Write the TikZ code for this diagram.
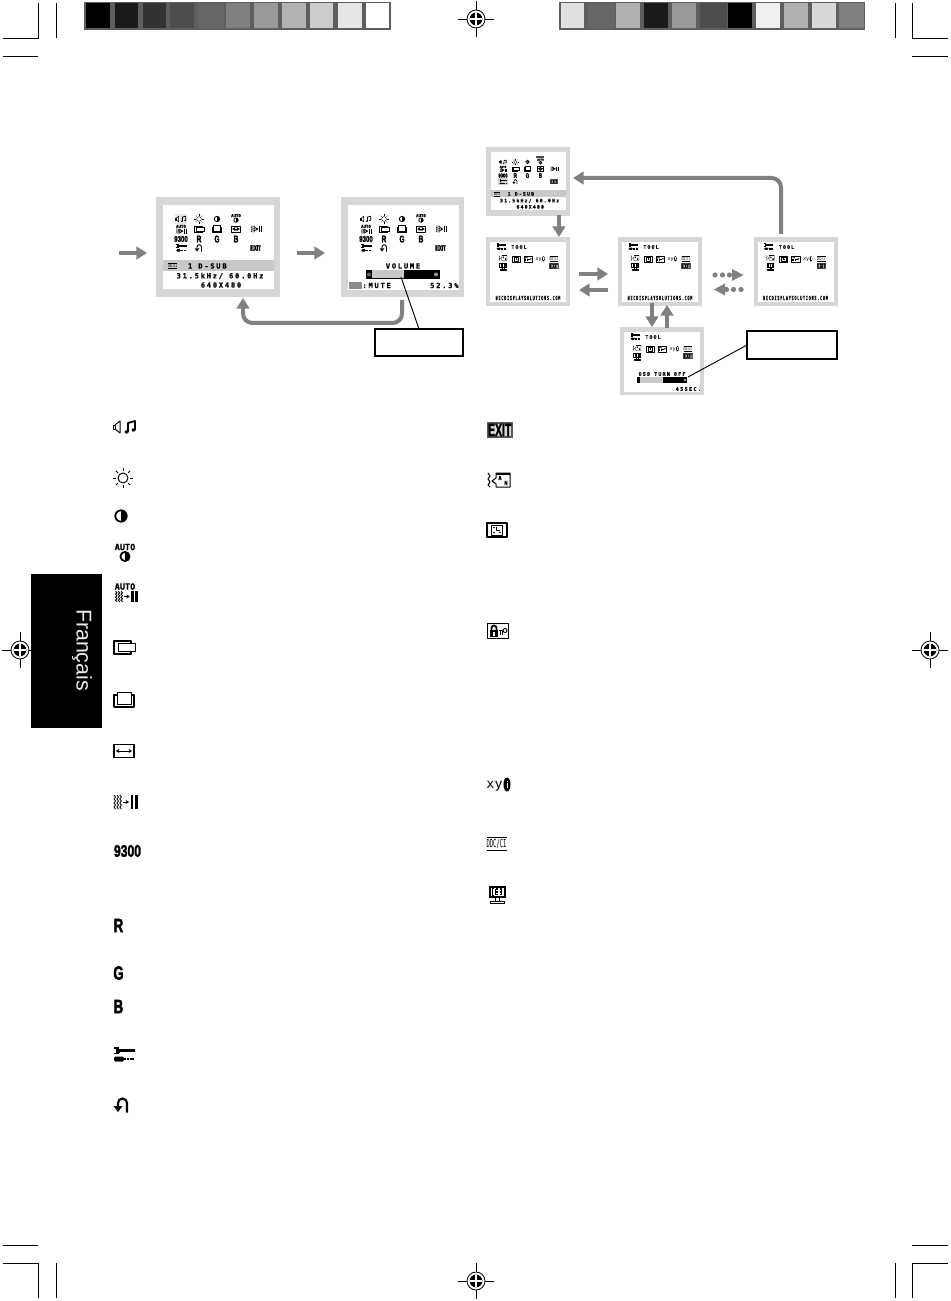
\documentclass[tikz,border=0pt]{standalone}
\usepackage{fontspec}
\usetikzlibrary{arrows.meta,calc}
\setmainfont{Liberation Sans}
\newfontfamily\osdfont[LetterSpace=25,BoldFeatures={FakeBold=.6}]{DejaVu Sans Mono}
\newfontfamily\monofnt[BoldFeatures={FakeBold=.6}]{DejaVu Sans Mono}
\newfontfamily\icofont[BoldFeatures={FakeBold=2.5}]{Liberation Sans}
\definecolor{pgrey}{HTML}{D6D6D6}
\definecolor{barg}{HTML}{C8C8C8}
\definecolor{arrg}{HTML}{808080}
\definecolor{fr}{HTML}{5E5E5E}
\def\ilw{.75pt}
\tikzset{
  ik/.style={draw=black,line width=\ilw,line join=round},
  ikt/.style={draw=black,line width=1.8*\ilw,line join=round},
  ico/.style={scale=#1,transform shape},
  ot/.style={inner sep=0,outer sep=0,transform shape,font=\osdfont\bfseries\fontsize{#1}{#1}\selectfont},
  ot/.default=5.3,
  aut/.style={inner sep=0,outer sep=0,transform shape,font=\monofnt\bfseries\fontsize{6.4}{6.4}\selectfont},
  bigl/.style={inner sep=0,outer sep=0,transform shape,font=\icofont\bfseries\fontsize{#1}{#1}\selectfont},
  pbox/.style={fill=pgrey,draw=none,inner sep=0,outer sep=0},
  cbox/.style={draw=black,line width=.8pt,fill=white,inner sep=0,outer sep=0},
  garrow/.style={draw=arrg,line width=3pt,-{Triangle[length=8pt,width=9.5pt]},rounded corners=7pt},
  leader/.style={draw=black,line width=.7pt},
  crop/.style={draw=black,line width=.7pt},
  % ---- icons
  vol/.pic={
    \draw[ik] (-12,-2) rectangle (-10,2);
    \draw[ik] (-10,-2)--(-5,-6)--(-5,6)--(-10,2);
    \draw[ikt] (3,5)--(3,-4)--(10,-6)--(10,3);
    \fill (1.5,5) ellipse (2 and 1.6);
    \fill (8.5,3) ellipse (2 and 1.6);
  },
  sun/.pic={
    \draw[ik] (0,0) circle (5);
    \foreach \a in {0,45,...,315}{\draw[ik] (\a:7.3) -- (\a:10);}
  },
  con/.pic={
    \draw[ikt] (0,0) circle (5.7);
    \fill (0,-6) arc (-90:90:6) -- cycle;
  },
  aucon/.pic={
    \node[aut] (au1) at (0,-5) {AUTO};
    \draw[ikt] (0,4.5) circle (4.6);
    \fill (0,-0.5) arc (-90:90:5) -- cycle;
  },
  wav/.pic={
    \foreach \q in {-10,-7.1,-4.2}{
      \draw[draw=black,line width=.8*\ilw] (\q,-7)--(\q+1.6,-5)--(\q,-3)--(\q+1.6,-1)--(\q,1)--(\q+1.6,3)--(\q,5)--(\q+1.6,7);
    }
    \draw[line width=.6*\ilw,-{Stealth[length=2.5pt,width=3pt]}] (-1,0)--(5,0);
    \fill (6.7,-7) rectangle (9,7);
    \fill (11,-7) rectangle (13.5,7);
  },
  auadj/.pic={
    \node[aut] (au2) at (0,-5.5) {AUTO};
    \pic[yscale=.75,xscale=.95] at (0,4.5) {wav};
  },
  sizl/.pic={
    \draw[ikt] (-10,-6) rectangle (7,7);
    \draw[ik,fill=white] (-6,-4) rectangle (11,4.5);
  },
  sizb/.pic={
    \draw[ikt] (-10,-4) rectangle (10,8);
    \draw[ik,fill=white] (-7,-7) rectangle (7,5);
  },
  wid/.pic={
    \draw[ikt] (-10,-6.5) rectangle (10,6.5);
    \draw[line width=.6*\ilw,{Stealth[length=2.5pt,width=3pt]}-{Stealth[length=2.5pt,width=3pt]}] (-8,0)--(8,0);
  },
  n93/.pic={\node[bigl=12.5,xscale=.73] (n93t) at (0,0) {9300};},
  lR/.pic={\node[bigl=14.5,xscale=.68] (lRt) at (0,0) {R};},
  lG/.pic={\node[bigl=14.5,xscale=.68] (lGt) at (0,0) {G};},
  lB/.pic={\node[bigl=14.5,xscale=.68] (lBt) at (0,0) {B};},
  toolic/.pic={
    \fill (-10,-7) rectangle (-5,-5.3);
    \fill (-10,-1.5) rectangle (-5,.2);
    \fill (-8,-5.5) rectangle (-4,-1.3);
    \fill (-4,-5.2) rectangle (11,-2);
    \fill[rounded corners=1] (-10,2.5) rectangle (0,7.5);
    \draw[draw=black,line width=1.3pt,dash pattern=on 1.5pt off .6pt] (0,5) -- (11,5);
  },
  reseti/.pic={
    \draw[line width=2.1*\ilw] (5,7.5)--(5,-2) arc (0:-180:4.5)--(-4,1);
    \fill (-8.5,1)--(.5,1)--(-4,7)--cycle;
  },
  exitic/.pic={
    \fill[fill=black!65] (-13.5,-8) rectangle (13,8);
    \fill[black!15] (-11.5,-6.3) rectangle (11,6.3);
    \node[bigl=13.5,xscale=.58] (exitt) at (-.3,0) {EXIT};
  },
  lang/.pic={
    \draw[ik] (-11,-7)--(-9,-4)--(-11,-1)--(-9,2)--(-11,5)--(-9,7);
    \draw[ik] (-7,1)--(-3,-2)--(-3,-7)--(11,-7)--(11,7)--(-3,7)--(-3,4)--cycle;
    \fill (-3,-7) rectangle (11,-5);
    \node[ot=4.2] (langa) at (1,-2) {A};
    \node[ot=4.2] (langn) at (7,3) {N};
  },
  timer/.pic={
    \draw[ikt] (-10,-7) rectangle (10,7);
    \draw[ik] (-5.5,-5) rectangle (5.5,5);
    \draw[ik] (-.5,-3.5)--(-.5,0)--(2.5,0);
    \fill (-3,2.5) circle (.8) (3,2.5) circle (.8) (-3,-2.5) circle (.8);
  },
  lockic/.pic={
    \draw[ik] (-10.5,-7.5) rectangle (10.5,7.5);
    \fill (-8,-1) rectangle (0,6);
    \draw[ikt] (-6.5,-1)--(-6.5,-3) arc (-180:0:2.5)--(-1.5,-1);
    \fill[white] (-4.6,1) rectangle (-3.4,4.5);
    \draw[ik] (7,-.5) circle (2);
    \draw[ik] (5,-.5)--(1,-.5)(2,-.5)--(2,3.5)(4,-.5)--(4,3.5);
  },
  xyic/.pic={
    \node[inner sep=0,outer sep=0,transform shape,font=\monofnt\fontsize{10}{10}\selectfont] (xyt) at (-3.5,1) {xy};
    \fill (9,-.5) ellipse (3.5 and 7);
    \fill[white] (8.5,-2) rectangle (9.6,3);
    \fill[white] (8.5,-4.5) rectangle (9.6,-3.4);
  },
  ddc/.pic={
    \draw[ik] (-10.5,-6.5) -- (9.5,-6.5);
    \draw[ik] (-10.5,6) -- (9.5,6);
    \node[inner sep=0,outer sep=0,transform shape,xscale=.5,font=\monofnt\fontsize{8.25}{8.25}\selectfont] (ddct) at (-.5,0) {DDC/CI};
  },
  moni/.pic={
    \fill (-8.5,-7.5) rectangle (8.5,5);
    \fill[white] (-6.5,-5.5) rectangle (6.5,3);
    \draw[ik] (-5,-4.5) -- (-5,2) (-5,-4.5) -- (-3.5,-4.5) (-5,2) -- (-3.5,2);
    \draw[ikt] (-1.5,-4)--(-1.5,1.5)(-1.5,-4)--(1,-4)(-1.5,-1.2)--(1,-1.2)(-1.5,1.5)--(1,1.5);
    \draw[ikt] (2.5,-4)--(4.5,-4)--(4.5,1.5)--(2.5,1.5)(2.8,-1.2)--(4.5,-1.2);
    \draw[ik] (-2,5) -- (-2,8) (2,5) -- (2,8);
    \draw[ik] (-7,8) rectangle (7,10);
  },
  regm/.pic={
    \draw[line width=.5pt] (-18,0) -- (18,0) (0,-18) -- (0,18);
    \draw[line width=.6pt,fill=white] (0,0) circle (9);
    \fill (0,0) circle (6.3);
    \draw[white,line width=.8pt] (-6.3,0) -- (6.3,0) (0,-6.3) -- (0,6.3);
  },
}
% main OSD menu: local coordinates, origin is the panel's top-left corner
\newcommand\mainicons{
  \pic[ico=.47] at (25,22) {vol};
  \pic[ico=.47] at (43,22) {sun};
  \pic[ico=.47] at (61,22) {con};
  \pic[ico=.47] at (80,21) {aucon};
  \pic[ico=.47] at (25,32) {auadj};
  \pic[ico=.47] at (43,32) {sizl};
  \pic[ico=.47] at (61,32) {sizb};
  \pic[ico=.47] at (80,32) {wid};
  \pic[ico=.47] at (100,32) {wav};
  \pic[ico=.5] at (25,42) {n93};
  \pic[ico=.5] at (43,42) {lR};
  \pic[ico=.5] at (61,42) {lG};
  \pic[ico=.5] at (80,42) {lB};
  \pic[ico=.5] at (25,51) {toolic};
  \pic[ico=.5] at (43,51) {reseti};
  \pic[ico=.42] at (100,51) {exitic};
}
\newcommand\infotext{
  \fill[barg] (7,63) rectangle (118,74);
  \fill[white] (7,74) rectangle (118,92);
  \pic[ico=.45] at (17,69) {ddc};
  \node[ot,anchor=west] (ia) at (32,69) {1 D-SUB};
  \node[ot] (ib) at (64,79) {31.5kHz/ 60.0Hz};
  \node[ot] (ic) at (65,88) {640X480};
}
\newcommand\toolinner{
  \fill[white] (4,5) rectangle (80,65);
  \pic[ico=.45] at (15,9.5) {toolic};
  \node[ot=3.6] (tta) at (33,10) {TOOL};
  \pic[ico=.36] at (17,21) {lang};
  \pic[ico=.42] at (17,29) {moni};
  \pic[ico=.4] at (30,22) {timer};
  \pic[ico=.4] at (42,22) {lockic};
  \pic[ico=.38] at (54,22) {xyic};
  \pic[ico=.42] at (68,22) {ddc};
  \pic[ico=.36] at (68,29) {exitic};
}
\newcommand\necurl{\node[ot=4.4,xscale=.57] (tub) at (42,61) {NECDISPLAYSOLUTIONS.COM};}
\begin{document}
\begin{tikzpicture}[x=.75pt,y=-.75pt]
\useasboundingbox (0,0) rectangle (950,1301);
\fill[white] (0,0) rectangle (950,1301);
% colour bars
\fill[fr] (84,2) rectangle (391,30);
\foreach \a/\b/\c in {86/110/000000,115/138/1A1A1A,143/166/333333,170/194/4D4D4D,198/224/666666,226/250/808080,254/278/999999,282/306/B3B3B3,310/333/CCCCCC,338/362/E6E6E6,366/389/FFFFFF}{
  \definecolor{cc}{HTML}{\c}\fill[cc] (\a,3.5) rectangle (\b,28);}
\fill[fr] (559,2) rectangle (865,30);
\foreach \a/\b/\c in {561/584/E0E0E0,588/615/666666,616/640/B0B0B0,644/668/1A1A1A,672/696/999999,700/727/4D4D4D,728/752/000000,756/780/F0F0F0,784/808/B0B0B0,812/836/D8D8D8,839/864/808080}{
  \definecolor{cc}{HTML}{\c}\fill[cc] (\a,3.5) rectangle (\b,28);}
% crop marks
\draw[crop] (3,38)--(38,38)--(38,3) (56,3)--(56,38) (3,56)--(38,56);
\draw[crop] (895,3)--(895,38) (912,3)--(912,38)--(948,38) (912,56)--(948,56);
\draw[crop] (3,1245)--(38,1245) (3,1263)--(38,1263)--(38,1298) (56,1263)--(56,1298);
\draw[crop] (895,1263)--(895,1298) (948,1263)--(912,1263)--(912,1298) (912,1245)--(948,1245);
% language tab
\node[fill=black,inner sep=0,outer sep=0,minimum width=53.25pt,minimum height=115.5pt] (tab) at (66.5,650.5) {};
\pic at (20,650) {regm};
\pic at (930,650) {regm};
\pic at (476,19) {regm};
\pic at (476,1281) {regm};
\node[rotate=-90,text=white!93!black,inner sep=0,font=\fontsize{16}{16}\selectfont] (francais) at (82,650) {Français};
% panels
\node[pbox,minimum width=93pt,minimum height=75pt] (p1) at (218,247) {};
\node[pbox,minimum width=92.25pt,minimum height=75pt] (p2) at (402.5,247) {};
\node[pbox,minimum width=63pt,minimum height=51.75pt] (m1) at (528,181.5) {};
\node[pbox,minimum width=63pt,minimum height=51.75pt] (t1) at (528,271.5) {};
\node[pbox,minimum width=63pt,minimum height=51.75pt] (t2) at (660,271.5) {};
\node[pbox,minimum width=63pt,minimum height=51.75pt] (t3) at (795.5,271.5) {};
\node[pbox,minimum width=63pt,minimum height=51pt] (t4) at (662,361) {};
% main menu panel
\begin{scope}[shift={(156,197)}]
  \def\ilw{.33pt}
  \fill[white] (7,8) rectangle (118,63);
  \fill[pgrey!60] (19,17) rectangle (31,27);
  \mainicons
  \infotext
\end{scope}
% volume panel
\begin{scope}[shift={(341,197)}]
  \def\ilw{.33pt}
  \fill[white] (7,8) rectangle (118,93);
  \mainicons
  \node[ot] (va) at (62,69) {VOLUME};
  \fill[black] (25,73) rectangle (99,82);
  \fill[barg] (31,73.5) rectangle (63,81.5);
  \fill[black!60] (28,77.5) circle (2);
  \fill[black!40] (95,77.5) circle (2);
  \fill[black!45] (7.5,85) rectangle (20.5,92);
  \node[ot,anchor=west] (vb) at (21.5,88.5) {:MUTE};
  \node[ot,anchor=east] (vc) at (117.5,88.5) {52.3\%};
\end{scope}
% small main menu
\begin{scope}[shift={(486,147)},scale=.68,transform shape]
  \def\ilw{.25pt}
  \fill[white] (7,8) rectangle (118,63);
  \fill[pgrey] (17,46) rectangle (33,56);
  \mainicons
  \fill[black!70] (74,13) rectangle (86,16);
  \infotext
\end{scope}
% tool panels
\begin{scope}[shift={(486,237)}]\def\ilw{.22pt}\toolinner\necurl\end{scope}
\begin{scope}[shift={(618,237)}]\def\ilw{.22pt}\toolinner\necurl\end{scope}
\begin{scope}[shift={(753.5,237)}]\def\ilw{.22pt}\toolinner\necurl\end{scope}
\begin{scope}[shift={(620,327)}]
  \def\ilw{.22pt}\toolinner
  \node[ot=3.7] (oa) at (42,47) {OSD TURN OFF};
  \fill[black] (17,50) rectangle (67,56);
  \fill[barg] (20,50.5) rectangle (43,55.5);
  \fill[black!35] (65,53) circle (1.3);
  \node[ot=3.9,anchor=east] (ob) at (81,62) {45SEC.};
\end{scope}
% callouts
\node[cbox,minimum width=66pt,minimum height=20.25pt] (c1) at (419,342.5) {};
\node[cbox,minimum width=67.5pt,minimum height=21pt] (c2) at (792,345) {};
\coordinate (c1t) at (401,277);
\coordinate (c2t) at (688,377);
\draw[leader] (c1t) -- (c1.north);
\draw[leader] (c2t) -- (c2.west);
% flow arrows: free ends are named coordinates
\coordinate (a1s) at (119,253); \coordinate (a1e) at (147,253);
\coordinate (a2s) at (297,253); \coordinate (a2e) at (325,253);
\coordinate (a3s) at (402,300); \coordinate (a3a) at (402,323);
\coordinate (a3b) at (243,323); \coordinate (a3e) at (243,298);
\coordinate (a4s) at (559,215); \coordinate (a4e) at (559,237);
\coordinate (a5s) at (781,234); \coordinate (a5a) at (781,178); \coordinate (a5e) at (573,178);
\coordinate (a6s) at (579,274); \coordinate (a6e) at (608,274);
\coordinate (a7s) at (608,290); \coordinate (a7e) at (579,290);
\coordinate (a9s) at (652,303); \coordinate (a9e) at (652,327);
\coordinate (a10s) at (667,328); \coordinate (a10e) at (667,305);
\draw[garrow] (a1s) -- (a1e);
\draw[garrow] (a2s) -- (a2e);
\draw[garrow] (a3s) -- (a3a) -- (a3b) -- (a3e);
\draw[garrow] (a4s) -- (a4e);
\draw[garrow] (a5s) -- (a5a) -- (a5e);
\draw[garrow] (a6s) -- (a6e);
\draw[garrow] (a7s) -- (a7e);
\draw[garrow] (a9s) -- (a9e);
\draw[garrow] (a10s) -- (a10e);
% dotted arrows
\fill[arrg] (715,275) circle (2.6) (722.5,275) circle (2.6) (729.5,275) circle (2.6);
\fill[arrg] (732,269)--(743.5,275)--(732,281)--cycle;
\fill[arrg] (741,289.5) circle (2.6) (733.5,289.5) circle (2.6) (726.5,289.5) circle (2.6);
\fill[arrg] (725,283.5)--(714,289.5)--(725,295.5)--cycle;
% legend, left column
\pic at (125,427) {vol};
\pic at (123,478) {sun};
\pic at (121,516) {con};
\pic at (125,552) {aucon};
\pic at (125,592) {auadj};
\pic at (124,647) {sizl};
\pic at (124,699) {sizb};
\pic at (124,751) {wid};
\pic at (124,802) {wav};
\pic at (127.5,851) {n93};
\pic at (118.5,925.5) {lR};
\pic at (118.5,973) {lG};
\pic at (118.5,1006.5) {lB};
\pic at (124,1054) {toolic};
\pic at (122,1105) {reseti};
% legend, right column
\pic at (500,430) {exitic};
\pic at (499,480) {lang};
\pic at (497,530) {timer};
\pic at (498,631) {lockic};
\pic at (498,785) {xyic};
\pic at (497,844) {ddc};
\pic at (497,893) {moni};
\end{tikzpicture}
\end{document}
